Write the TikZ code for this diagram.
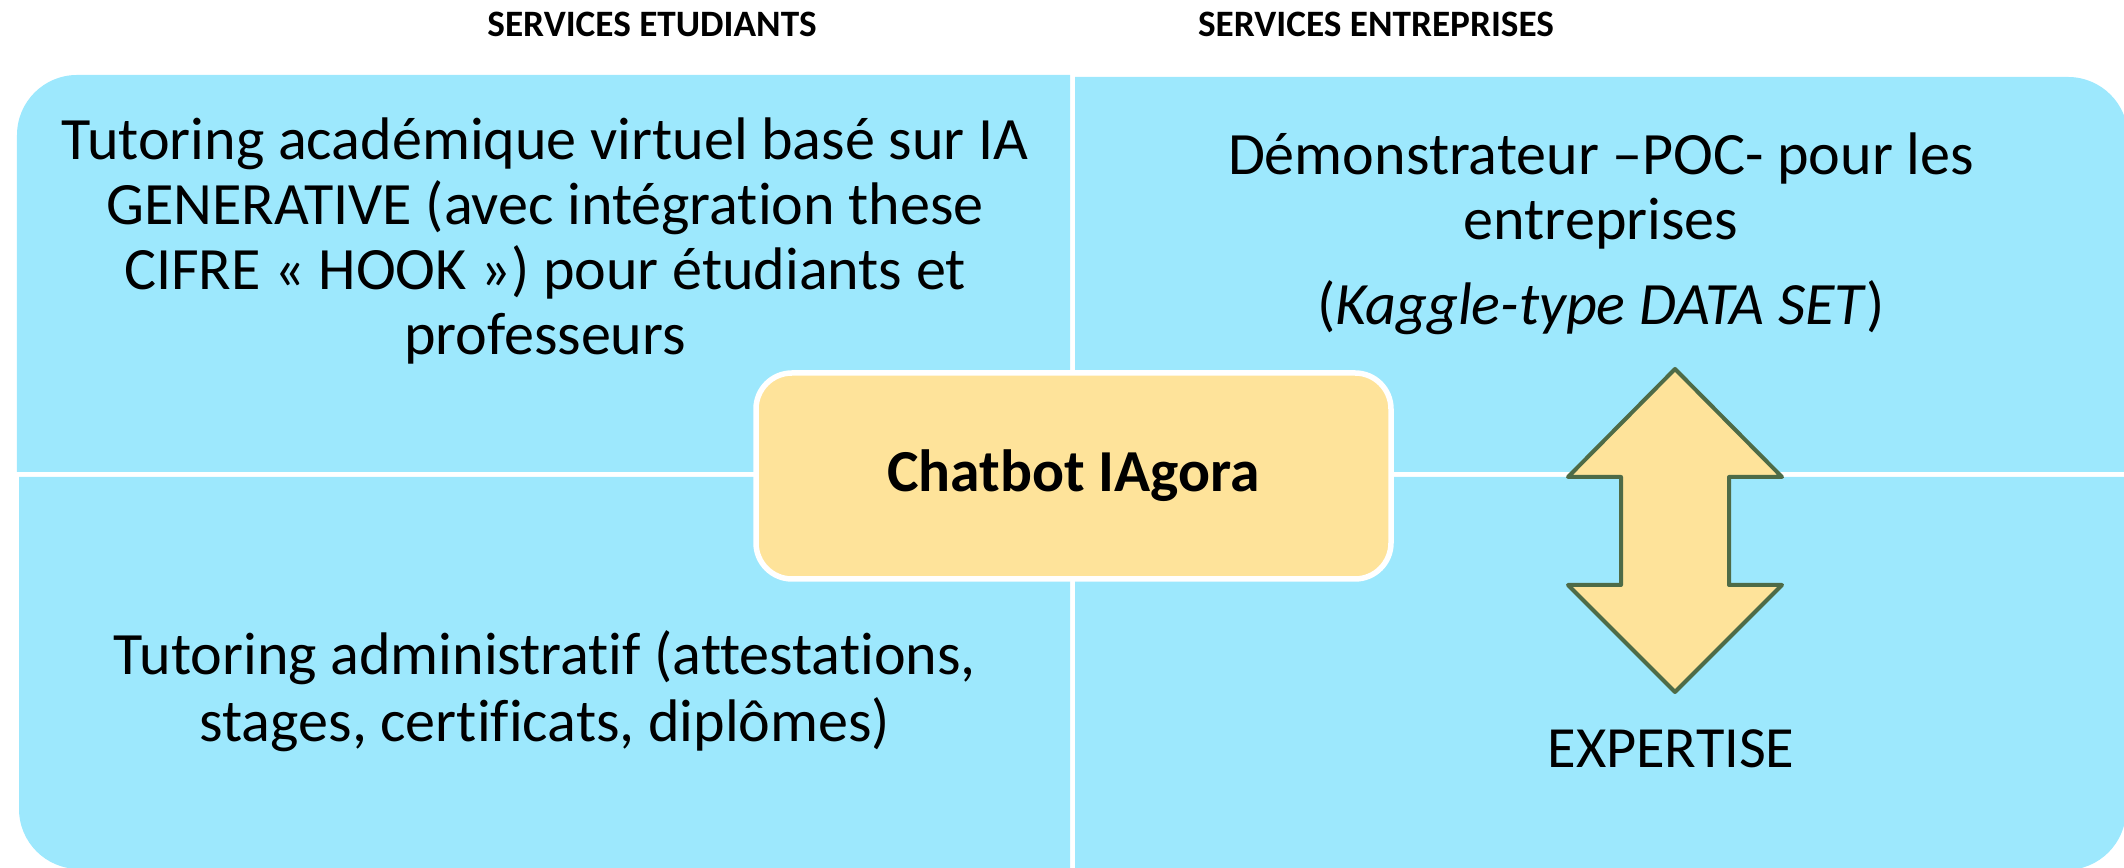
\documentclass[tikz,border=0pt]{standalone}
\usepackage{fontspec}
\setmainfont{Carlito}[Ligatures=NoCommon]
\usepackage{tikz}
\definecolor{quad}{HTML}{9DE8FD}
\definecolor{hub}{HTML}{FEE39A}
\definecolor{arrowline}{HTML}{4E6B47}
\tikzset{quad/.style={fill=quad,draw=none}}
\tikzset{hub/.style={black,draw=white,line width=0.11cm,fill=hub,rectangle,rounded corners=0.72cm}}
\tikzset{body/.style={black,align=center,inner sep=0pt,font=\fontsize{34.2}{37}\selectfont}}
\tikzset{title/.style={black,inner sep=0pt,font=\fontsize{21.2}{24}\selectfont\bfseries}}

\begin{document}
\begin{tikzpicture}
    \useasboundingbox (0,0) rectangle (42.48,17.36);

    % quadrants
    \fill[quad] (0.34,7.92) [rounded corners=1.2cm] -- (0.34,15.86) [sharp corners] -- (21.40,15.86) -- (21.40,7.92) -- cycle;
    \fill[quad] (21.50,7.92) -- (21.50,15.82) [rounded corners=1.2cm] -- (42.56,15.82) [sharp corners] -- (42.56,7.92) -- cycle;
    \fill[quad] (0.38,7.82) [rounded corners=1.2cm] -- (0.38,-0.02) [sharp corners] -- (21.40,-0.02) -- (21.40,7.82) -- cycle;
    \fill[quad] (21.50,7.82) -- (21.50,-0.04) [rounded corners=1.2cm] -- (42.52,-0.04) [sharp corners] -- (42.52,7.82) -- cycle;

    \node[title] (etud) at (13.04,16.88) {SERVICES ETUDIANTS};
    \node[title] (entr) at (27.52,16.88) {SERVICES ENTREPRISES};

    \node[body,anchor=base] (acad) at (10.90,10.26)
    {Tutoring académique virtuel basé sur IA\\GENERATIVE (avec intégration these\\CIFRE « HOOK ») pour étudiants et\\professeurs};

    \node[body,anchor=base] (poc) at (32.02,10.86)
    {Démonstrateur –POC- pour les\\entreprises\\[0.4cm](\textit{Kaggle-type DATA SET})};

    \node[body,anchor=base,font=\fontsize{34.2}{38.5}\selectfont] (admin) at (10.90,2.52)
    {Tutoring administratif (attestations,\\stages, certificats, diplômes)};

    \node[body,anchor=base,font=\fontsize{33.2}{37}\selectfont] (expert) at (33.42,2.00) {EXPERTISE};

    \node[hub,minimum width=12.70cm,minimum height=4.12cm] (chatbot) at (21.47,7.84)
    {\fontsize{33.9}{36}\selectfont\bfseries Chatbot IAgora};

    % double arrow
    \draw[arrowline,line width=0.08cm,fill=hub,line join=round]
      (33.50,9.98) -- (35.64,7.82) -- (34.58,7.82) -- (34.58,5.66) -- (35.64,5.66)
      -- (33.50,3.52) -- (31.36,5.66) -- (32.42,5.66) -- (32.42,7.82) -- (31.36,7.82) -- cycle;
\end{tikzpicture}
\end{document}
